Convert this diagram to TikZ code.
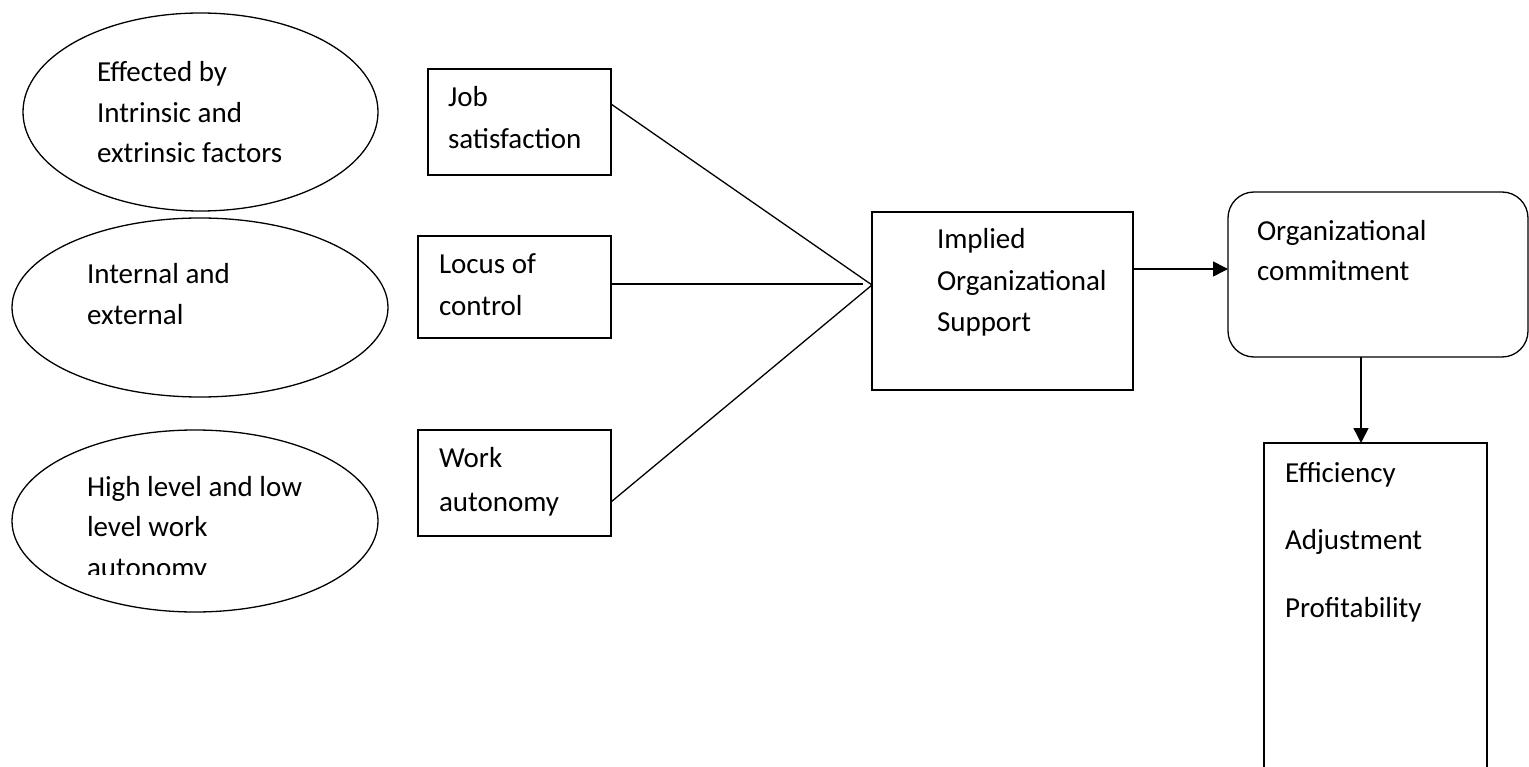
\documentclass[tikz,border=0pt]{standalone}
\usepackage{fontspec}
\setmainfont{Carlito}
\usetikzlibrary{arrows.meta,calc,shapes.geometric}
\newcommand\topstrut{\rule{0pt}{24pt}}
\begin{document}
\begin{tikzpicture}[x=1pt,y=-1pt,
  every node/.style={inner sep=0pt, outer sep=0pt},
  outline/.style={draw, line width=1.3pt},
  ell/.style={outline, ellipse},
  boxshape/.style={outline, rectangle},
  txt/.style={anchor=north west, align=left},
  lsA/.style={font=\fontsize{29}{40.5}\selectfont},
  lsB/.style={font=\fontsize{29}{42}\selectfont},
  conn/.style={line width=1.3pt},
  arr/.style={line width=1.6pt, -{Triangle[length=15pt,width=15pt]}}
]
\useasboundingbox (0,0) rectangle (1529,767);
\clip (0,0) rectangle (1529,767);
\fill[white] (0,0) rectangle (1529,767);

% ellipses
\node[ell, minimum width=355pt, minimum height=198pt] (e1) at (200.5,112) {};
\node[ell, minimum width=376pt, minimum height=179pt] (e2) at (200,307.5) {};
\node[ell, minimum width=366pt, minimum height=182pt] (e3) at (195,521) {};
\node[txt, lsA] (t1) at (97,58) {\topstrut Effected by\\Intrinsic and\\extrinsic factors};
\node[txt, lsA] (t2) at (87,260) {\topstrut Internal and\\external};
\begin{scope}
\clip (80,440) rectangle (400,574);
\node[txt, lsA] (t3) at (87,472) {\topstrut High level and low\\level work\\autonomy};
\end{scope}

% boxes
\node[boxshape, minimum width=183pt, minimum height=106pt] (job) at (519.5,122) {};
\node[boxshape, minimum width=193pt, minimum height=102pt] (locus) at (514.5,287) {};
\node[boxshape, minimum width=193pt, minimum height=106pt] (work) at (514.5,483) {};
\node[txt, lsB] (tj) at (448,83) {\topstrut Job\\satisfaction};
\node[txt, lsB] (tl) at (439,250) {\topstrut Locus of\\control};
\node[txt, font=\fontsize{29}{44}\selectfont] (tw) at (439,443) {\topstrut Work\\autonomy};

\node[boxshape, minimum width=261pt, minimum height=178pt] (ios) at (1002.5,301) {};
\node[txt, font=\fontsize{29}{41.5}\selectfont] (ti) at (937,225) {\topstrut Implied\\Organizational\\Support};

\node[outline, rectangle, rounded corners=26pt, minimum width=300pt, minimum height=165pt] (org) at (1378,274.5) {};
\node[txt, font=\fontsize{29}{40}\selectfont] (to) at (1257,217) {\topstrut Organizational\\commitment};

\node[boxshape, minimum width=223pt, minimum height=340pt] (eff) at (1375.5,613) {};
\node[txt, font=\fontsize{29}{67.5}\selectfont] (te) at (1285,458) {\topstrut Efficiency\\Adjustment\\Profitability};

% connectors
\coordinate (apex) at (872,285);
\draw[conn] ([yshift=18pt]job.east) -- (apex);
\draw[line width=2.8pt, shorten >=9pt] ([yshift=3pt]locus.east) -- ([yshift=3pt]locus.east -| apex);
\draw[conn] ([yshift=-19pt]work.east) -- (apex);
\draw[arr] ([yshift=32pt]ios.east) -- ([yshift=32pt]ios.east -| org.west);
\draw[arr] ([xshift=-17pt]org.south) -- ([xshift=-17pt]org.south |- eff.north);
\end{tikzpicture}
\end{document}
